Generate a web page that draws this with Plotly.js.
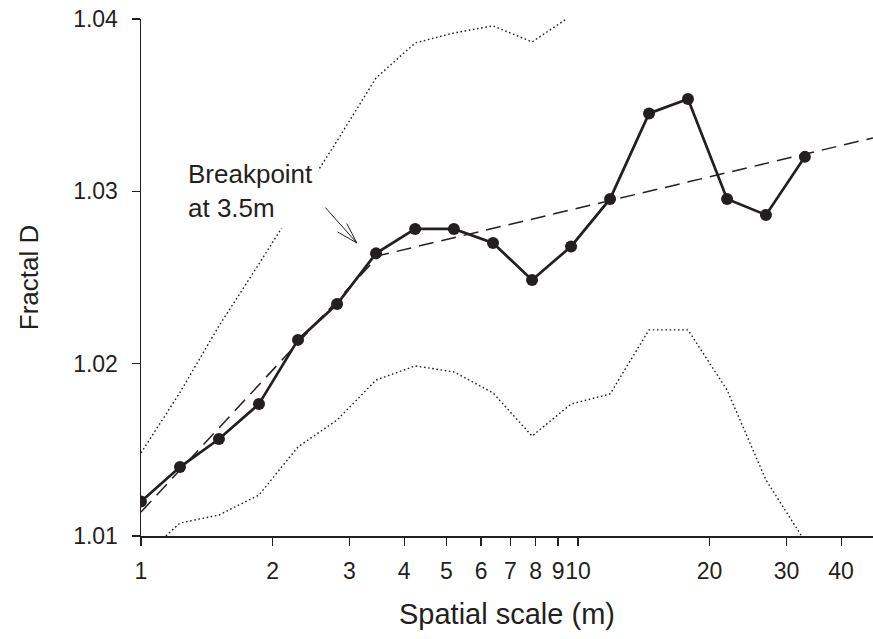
<!DOCTYPE html>
<html>
<head>
<meta charset="utf-8">
<script src="https://cdn.plot.ly/plotly-3.0.1.min.js"></script>
<style>
  html, body { margin: 0; padding: 0; background: #fff; }
  #chart { width: 873px; height: 639px; }
</style>
</head>
<body>
<div id="chart"></div>
<script>
// ---- data ----
const scaleM   = [1, 1.228, 1.508, 1.862, 2.287, 2.81, 3.45, 4.24, 5.2, 6.39, 7.85, 9.64, 11.84, 14.54, 17.85, 21.93, 26.92, 33.05];
const fractalD = [1.0120, 1.0140, 1.01563, 1.01766, 1.02138, 1.02346, 1.0264, 1.02782, 1.02782, 1.0270, 1.02486, 1.0268, 1.02956, 1.03452, 1.03536, 1.02956, 1.02863, 1.0320];
const upperD   = [1.01482, 1.01833, 1.02219, 1.02579, 1.02938, 1.03293, 1.03658, 1.03861, 1.03919, 1.0396, 1.03867, 1.04018];
const lowerD   = [1.0087, 1.01075, 1.01122, 1.01238, 1.01517, 1.01673, 1.01905, 1.01987, 1.01952, 1.0183, 1.0158, 1.01766, 1.01824, 1.02196, 1.02196, 1.01847, 1.01325, 1.0097];
const fitX     = [1, 3.5, 47.3];
const fitD     = [1.01139, 1.02627, 1.0331];
const xTickVals = [1, 2, 3, 4, 5, 6, 7, 8, 9, 10, 20, 30, 40];
const xTickText = ['1', '2', '3', '4', '5', '6', '7', '8', '9', '10', '20', '30', '40'];
const yTickVals = [1.01, 1.02, 1.03, 1.04];
const yTickText = ['1.01', '1.02', '1.03', '1.04'];
const annText   = 'Breakpoint<br>at 3.5m';

const ink = '#231f20';
const FONT = 'Liberation Sans, Arial, Helvetica, sans-serif';

const traces = [
  { x: scaleM.slice(0, upperD.length), y: upperD, mode: 'lines', type: 'scatter',
    line: { color: ink, width: 1.4, dash: '1.6px,2.6px' }, hoverinfo: 'skip' },
  { x: scaleM, y: lowerD, mode: 'lines', type: 'scatter',
    line: { color: ink, width: 1.4, dash: '1.6px,2.6px' }, hoverinfo: 'skip' },
  { x: fitX, y: fitD, mode: 'lines', type: 'scatter',
    line: { color: ink, width: 1.5, dash: '15px,8px' }, hoverinfo: 'skip' },
  { x: scaleM, y: fractalD, mode: 'lines+markers', type: 'scatter',
    line: { color: ink, width: 2.7 }, marker: { color: ink, size: 12 } }
];

const tipX = Math.log10(3.12), tipY = 1.02700;
const arrowBase = { xref: 'x', yref: 'y', x: tipX, y: tipY, text: '', showarrow: true,
  arrowhead: 0, arrowwidth: 1, arrowcolor: ink, standoff: 0, startstandoff: 0, axref: 'pixel', ayref: 'pixel' };

const layout = {
  width: 873, height: 639,
  margin: { l: 141, r: 0, t: 19, b: 103, pad: 0 },
  paper_bgcolor: '#fff', plot_bgcolor: '#fff',
  showlegend: false,
  font: { family: FONT, color: ink },
  xaxis: {
    type: 'log', range: [0, 1.675], autorange: false,
    tickmode: 'array', tickvals: xTickVals, ticktext: xTickText, tickangle: 0,
    ticks: 'outside', ticklen: 8, tickwidth: 1.2, tickcolor: ink,
    showline: true, linewidth: 1.5, linecolor: ink,
    showgrid: false, zeroline: false,
    tickfont: { size: 23, family: FONT, color: ink },
    ticklabelstandoff: 6,
    title: { text: 'Spatial scale (m)', font: { size: 29, family: FONT, color: ink }, standoff: 20 }
  },
  yaxis: {
    range: [1.01, 1.04], autorange: false,
    tickmode: 'array', tickvals: yTickVals, ticktext: yTickText,
    ticks: 'outside', ticklen: 8, tickwidth: 1.2, tickcolor: ink,
    showline: true, linewidth: 1.5, linecolor: ink,
    showgrid: false, zeroline: false,
    tickfont: { size: 23, family: FONT, color: ink },
    ticklabelstandoff: 9,
    title: { text: 'Fractal D', font: { size: 26, family: FONT, color: ink }, standoff: 27 }
  },
  annotations: [
    { xref: 'x', yref: 'y', x: Math.log10(1.24), y: 1.03222, xanchor: 'left', yanchor: 'top',
      align: 'left', text: annText, showarrow: false, bgcolor: '#fff', borderpad: 5,
      font: { size: 26, family: FONT, color: ink } },
    Object.assign({}, arrowBase, { ax: -33, ay: -37 }),
    Object.assign({}, arrowBase, { ax: -21, ay: -12 }),
    Object.assign({}, arrowBase, { ax: -11, ay: -21 })
  ]
};

Plotly.newPlot('chart', traces, layout, { staticPlot: true, displayModeBar: false });
</script>
</body>
</html>
